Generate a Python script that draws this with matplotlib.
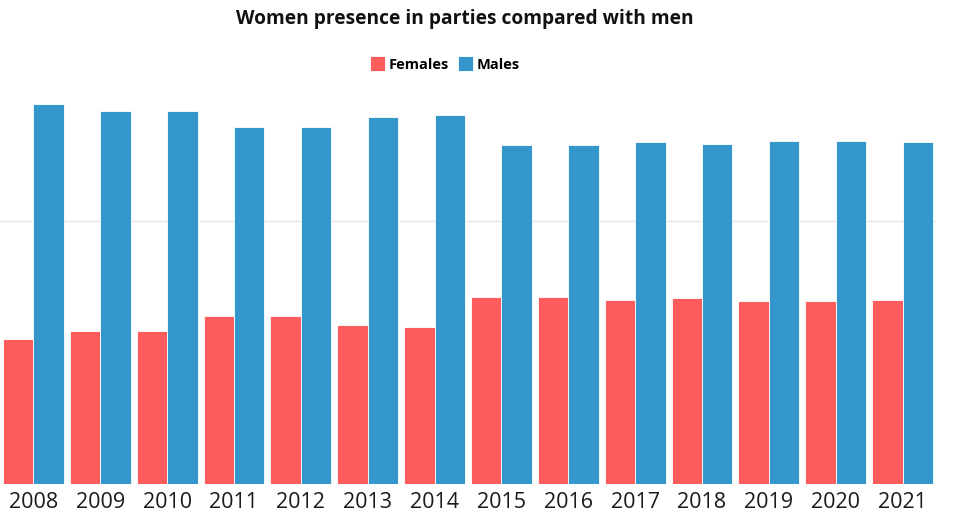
import matplotlib.pyplot as plt
import numpy as np

# Share of party members by sex, per year (%)
years = ["2008", "2009", "2010", "2011", "2012", "2013", "2014",
         "2015", "2016", "2017", "2018", "2019", "2020", "2021"]
females = [27.5, 29.0, 29.0, 31.9, 31.9, 30.2, 29.8,
           35.5, 35.5, 34.9, 35.3, 34.7, 34.7, 34.9]
males = [72.1, 70.8, 70.8, 67.7, 67.7, 69.6, 70.0,
         64.3, 64.3, 64.9, 64.5, 65.1, 65.1, 64.9]

female_color = "#ff5c5e"
male_color = "#3497cb"

fig = plt.figure(figsize=(9.55, 5.19), dpi=100)
ax = fig.add_axes([0.0, 35 / 519, 936 / 955, 411 / 519])

x = np.arange(len(years))
w = 0.455
ax.bar(x - w / 2, females, width=w, color=female_color,
       edgecolor="white", linewidth=0.6, label="Females", zorder=3)
ax.bar(x + w / 2, males, width=w, color=male_color,
       edgecolor="white", linewidth=0.6, label="Males", zorder=3)

ax.set_xlim(-0.5, len(years) - 0.5)
ax.set_ylim(0, 78)
ax.set_yticks([50])
ax.yaxis.grid(True, color="#e4e4e4", linewidth=1.0, zorder=0)
ax.tick_params(axis="y", left=False, labelleft=False)
ax.tick_params(axis="x", length=0, pad=6, labelsize=15.5, labelcolor="#1a1a1a")
ax.set_xticks(x)
ax.set_xticklabels(years, fontfamily="Open Sans")
for s in ax.spines.values():
    s.set_visible(False)

fig.text(0.487, 0.964, "Women presence in parties compared with men",
         ha="center", va="center", fontsize=13.8, fontweight="bold",
         fontfamily="Open Sans", color="#111111")

fig.legend(loc="center", bbox_to_anchor=(0.466, 0.877), ncol=2, frameon=False,
           handlelength=1.0, handleheight=1.2, handletextpad=0.3,
           columnspacing=0.6, prop={"family": "Open Sans", "weight": "bold",
                                    "size": 10.5})

fig.savefig("out.png", dpi=100, facecolor="white")
